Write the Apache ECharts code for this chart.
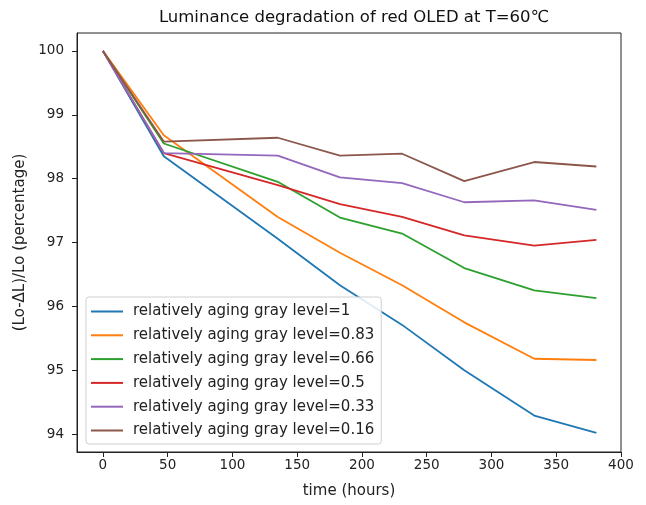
<!DOCTYPE html>
<html>
<head>
<meta charset="utf-8">
<script src="https://cdn.jsdelivr.net/npm/echarts@6/dist/echarts.min.js"></script>
<style>html,body{margin:0;padding:0;background:#fff}#c{width:646px;height:505px}</style>
</head>
<body>
<div id="c"></div>
<script>
const hours = [0, 47, 135, 183, 231, 279, 333, 381];
const seriesNames = [
  'relatively aging gray level=1',
  'relatively aging gray level=0.83',
  'relatively aging gray level=0.66',
  'relatively aging gray level=0.5',
  'relatively aging gray level=0.33',
  'relatively aging gray level=0.16'
];
const level1    = [100, 98.35, 97.06, 96.33, 95.71, 95.00, 94.29, 94.02];
const level083  = [100, 98.68, 97.40, 96.84, 96.33, 95.75, 95.18, 95.16];
const level066  = [100, 98.55, 97.95, 97.39, 97.14, 96.60, 96.25, 96.13];
const level05   = [100, 98.40, 97.90, 97.60, 97.40, 97.11, 96.95, 97.04];
const level033  = [100, 98.40, 98.36, 98.02, 97.93, 97.63, 97.66, 97.51];
const level016  = [100, 98.58, 98.64, 98.36, 98.39, 97.96, 98.26, 98.19];
const xTicks = [0, 50, 100, 150, 200, 250, 300, 350, 400];
const yTicks = [94, 95, 96, 97, 98, 99, 100];
const colors = ['#1f77b4', '#ff7f0e', '#2ca02c', '#d62728', '#9467bd', '#8c564b'];

const allValues = [level1, level083, level066, level05, level033, level016];
const font = 'DejaVu Sans';
const chart = echarts.init(document.getElementById('c'), null, {renderer: 'canvas'});
chart.setOption({
  animation: false,
  backgroundColor: '#fff',
  title: {
    text: 'Luminance degradation of red OLED at T=60℃',
    left: 349, top: 4, textAlign: 'center',
    textStyle: {fontFamily: font, fontSize: 16.5, fontWeight: 'normal', color: '#111'}
  },
  grid: {left: 77, right: 25, top: 33, bottom: 53, show: true, borderColor: '#222', borderWidth: 1, backgroundColor: 'transparent'},
  legend: {
    orient: 'vertical', left: 86, top: 297,
    padding: [6, 7, 5, 5],
    icon: 'rect',
    itemWidth: 32, itemHeight: 2, itemGap: 6.8,
    backgroundColor: 'rgba(255,255,255,0.85)', borderColor: '#d0d0d0', borderWidth: 1, borderRadius: 3,
    textStyle: {fontFamily: font, fontSize: 15, lineHeight: 17, color: '#222', padding: [0, 0, 0, 5]},
    data: seriesNames
  },
  xAxis: {
    type: 'value', min: -20, max: 400,
    name: 'time (hours)', nameLocation: 'middle', nameGap: 32,
    nameTextStyle: {fontFamily: font, fontSize: 15, color: '#222'},
    splitLine: {show: false},
    axisLine: {show: true, onZero: false, lineStyle: {color: '#222'}},
    axisTick: {show: true, length: 5, lineStyle: {color: '#222'}, customValues: xTicks},
    axisLabel: {fontFamily: font, fontSize: 13.5, color: '#222', margin: 6, customValues: xTicks}
  },
  yAxis: {
    type: 'value', min: 93.72, max: 100.28,
    name: '(Lo-ΔL)/Lo (percentage)', nameLocation: 'middle', nameGap: 47,
    nameTextStyle: {fontFamily: font, fontSize: 15, color: '#222'},
    splitLine: {show: false},
    axisLine: {show: true, onZero: false, lineStyle: {color: '#222'}},
    axisTick: {show: true, length: 5, lineStyle: {color: '#222'}, customValues: yTicks},
    axisLabel: {fontFamily: font, fontSize: 13.5, color: '#222', margin: 13, customValues: yTicks}
  },
  series: seriesNames.map((n, i) => ({
    name: n, type: 'line', symbol: 'none',
    color: colors[i],
    lineStyle: {width: 1.8, color: colors[i]},
    data: hours.map((h, j) => [h, allValues[i][j]])
  }))
});
</script>
</body>
</html>
